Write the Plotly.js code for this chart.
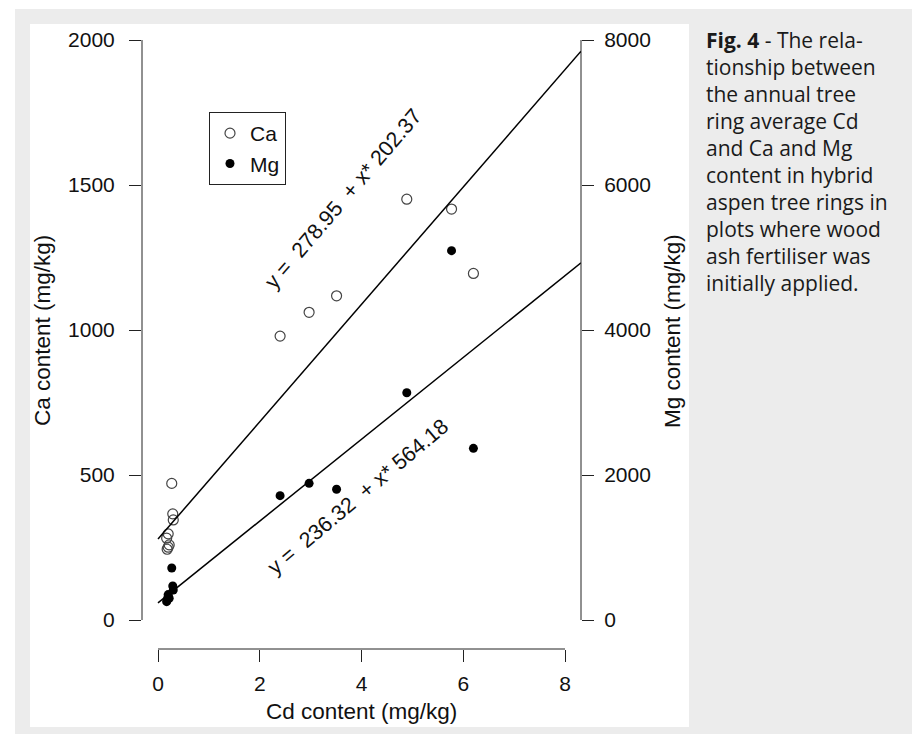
<!DOCTYPE html>
<html>
<head>
<meta charset="utf-8">
<script src="https://cdn.plot.ly/plotly-3.0.1.min.js"></script>
<style>
  html, body { margin: 0; padding: 0; background: #ffffff; }
  #chart { width: 912px; height: 734px; }
</style>
</head>
<body>
<div id="chart"></div>
<script>
// ---- data ----
const cdContent = [0.27, 0.29, 0.30, 0.20, 0.17, 0.22, 0.20, 0.18, 2.40, 2.97, 3.51, 4.89, 5.77, 6.20];
const caContent = [471, 366, 345, 297, 282, 259, 251, 244, 979, 1061, 1118, 1451, 1417, 1195];
const mgContent = [717, 469, 414, 322, 253, 300, 350, 280, 1715, 1885, 1803, 3135, 5094, 2368];

const caFit = [278.95, 202.37];   // intercept, slope
const mgFit = [236.32, 564.18];

const xTicks = [0, 2, 4, 6, 8];
const caTicks = [0, 500, 1000, 1500, 2000];
const mgTicks = [0, 2000, 4000, 6000, 8000];

const captionLines = [
  "<b>Fig. 4</b> - The rela-",
  "tionship between",
  "the annual tree",
  "ring average Cd",
  "and Ca and Mg",
  "content in hybrid",
  "aspen tree rings in",
  "plots where wood",
  "ash fertiliser was",
  "initially applied."
];

// ---- layout geometry ----
const L = 142, R = 581, T = 17, B = 649;
const W = R - L, H = B - T;
const px = v => (v - L) / W;
const py = v => (B - v) / H;

const xRange = [-0.3145, 8.3145];
const caRange = [-100, 2079.3];
const mgRange = [caRange[0] * 4, caRange[1] * 4];

const fitX = [0, xRange[1]];
const lineY = (f, x) => x.map(v => f[0] + f[1] * v);

const FONT = "Liberation Sans, Arial, Helvetica, sans-serif";
const INK = "#111111";

const traces = [
  {
    x: cdContent, y: caContent, name: "Ca", type: "scatter", mode: "markers",
    marker: { symbol: "circle-open", size: 10, color: "#444444", line: { width: 1.2, color: "#444444" } },
    xaxis: "x", yaxis: "y", cliponaxis: false
  },
  {
    x: cdContent, y: mgContent, name: "Mg", type: "scatter", mode: "markers",
    marker: { symbol: "circle", size: 9, color: "#000000" },
    xaxis: "x", yaxis: "y2", cliponaxis: false
  },
  {
    x: fitX, y: lineY(caFit, fitX), type: "scatter", mode: "lines",
    line: { color: "#000000", width: 1.5 }, showlegend: false, xaxis: "x", yaxis: "y"
  },
  {
    x: fitX, y: lineY(mgFit, fitX), type: "scatter", mode: "lines",
    line: { color: "#000000", width: 1.5 }, showlegend: false, xaxis: "x", yaxis: "y2"
  }
];

const titleFont = { family: FONT, size: 22.5, color: INK };

const annotations = [
  { text: "Ca content (mg/kg)", xref: "paper", yref: "paper", x: px(42), y: py(331),
    textangle: -90, showarrow: false, font: titleFont, xanchor: "center", yanchor: "middle" },
  { text: "Mg content (mg/kg)", xref: "paper", yref: "paper", x: px(672), y: py(331),
    textangle: -90, showarrow: false, font: titleFont, xanchor: "center", yanchor: "middle" },
  { text: "Cd content (mg/kg)", xref: "paper", yref: "paper", x: px(361.5), y: py(711),
    showarrow: false, font: titleFont, xanchor: "center", yanchor: "middle" },
  { text: "y =\u00A0 " + caFit[0].toFixed(2) + " \u00A0+ x* " + caFit[1].toFixed(2),
    xref: "x", yref: "y", x: 3.64, y: 1452, textangle: -49.5, showarrow: false,
    font: { family: FONT, size: 21.5, color: INK }, xanchor: "center", yanchor: "middle" },
  { text: "y =\u00A0 " + mgFit[0].toFixed(2) + " \u00A0+ x* " + mgFit[1].toFixed(2),
    xref: "x", yref: "y", x: 3.93, y: 424, textangle: -40, showarrow: false,
    font: { family: FONT, size: 21.5, color: INK }, xanchor: "center", yanchor: "middle" }
];

const capTop = 40, capStep = 27.05;
captionLines.forEach((t, i) => {
  annotations.push({
    text: t, xref: "paper", yref: "paper", x: px(704), y: py(capTop + i * capStep),
    xanchor: "left", yanchor: "middle", showarrow: false, align: "left",
    font: { family: "Open Sans, Noto Sans, sans-serif", size: 21, color: "#1a1a1a" }
  });
});

const shapes = [
  { type: "rect", xref: "paper", yref: "paper", x0: px(15), x1: px(912), y0: py(9), y1: py(734),
    fillcolor: "#ececec", line: { width: 0 }, layer: "below" },
  { type: "rect", xref: "paper", yref: "paper", x0: px(30), x1: px(689), y0: py(24), y1: py(727),
    fillcolor: "#ffffff", line: { width: 0 }, layer: "below" },
  { type: "line", xref: "paper", yref: "y", x0: 0, x1: 0, y0: caTicks[0], y1: caTicks[caTicks.length - 1],
    line: { color: "#222222", width: 1 } },
  { type: "line", xref: "paper", yref: "y2", x0: 1, x1: 1, y0: mgTicks[0], y1: mgTicks[mgTicks.length - 1],
    line: { color: "#222222", width: 1 } },
  { type: "line", xref: "x", yref: "paper", x0: xTicks[0], x1: xTicks[xTicks.length - 1], y0: 0, y1: 0,
    line: { color: "#222222", width: 1 } }
];

const tickFont = { family: FONT, size: 21, color: INK };

const layout = {
  width: 912, height: 734,
  margin: { l: L, r: 912 - R, t: T, b: 734 - B, pad: 0 },
  paper_bgcolor: "#ffffff",
  plot_bgcolor: "rgba(0,0,0,0)",
  showlegend: true,
  legend: {
    x: px(209), y: py(112), xanchor: "left", yanchor: "top",
    bgcolor: "#ffffff", bordercolor: "#222222", borderwidth: 1,
    font: { family: FONT, size: 21, color: INK }, itemwidth: 30, tracegroupgap: 0
  },
  xaxis: {
    range: xRange, tickmode: "array", tickvals: xTicks, ticktext: xTicks.map(String),
    ticks: "outside", ticklen: 12, tickwidth: 1, tickcolor: "#222222",
    showline: false, zeroline: false, showgrid: false, tickfont: tickFont, automargin: false,
    ticklabelstandoff: 4
  },
  yaxis: {
    range: caRange, tickmode: "array", tickvals: caTicks, ticktext: caTicks.map(String),
    ticks: "outside", ticklen: 12, tickwidth: 1, tickcolor: "#222222",
    showline: false, zeroline: false, showgrid: false, tickfont: tickFont, automargin: false,
    ticklabelstandoff: 10
  },
  yaxis2: {
    range: mgRange, overlaying: "y", side: "right", tickmode: "array", tickvals: mgTicks, ticktext: mgTicks.map(String),
    ticks: "outside", ticklen: 12, tickwidth: 1, tickcolor: "#222222",
    showline: false, zeroline: false, showgrid: false, tickfont: tickFont, automargin: false,
    ticklabelstandoff: 6
  },
  annotations: annotations,
  shapes: shapes,
  hovermode: false
};

Plotly.newPlot("chart", traces, layout, { staticPlot: true, displayModeBar: false });
</script>
</body>
</html>
